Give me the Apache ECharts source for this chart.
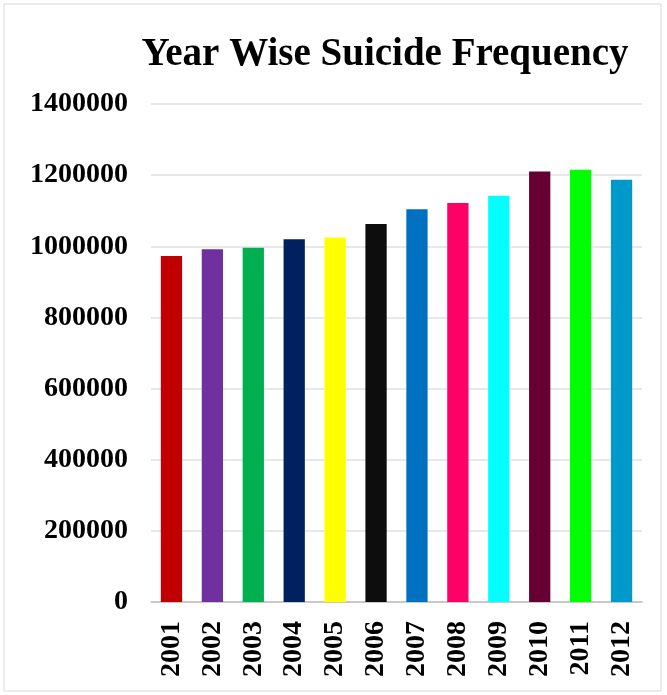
<!DOCTYPE html>
<html>
<head>
<meta charset="utf-8">
<script src="https://cdn.jsdelivr.net/npm/echarts@6/dist/echarts.min.js"></script>
<style>
  html, body { margin: 0; padding: 0; background: #fff; }
  #chart { width: 667px; height: 695px; }
</style>
</head>
<body>
<div id="chart"></div>
<script>
// Yearly suicide counts
const years = ['2001','2002','2003','2004','2005','2006','2007','2008','2009','2010','2011','2012'];
const counts = [973000, 992000, 996000, 1020000, 1025000, 1063000, 1104000, 1122000, 1142000, 1210000, 1215000, 1187000];
const barColors = ['#c00000','#7030a0','#00b050','#002060','#ffff00','#0d0d0d','#0070c0','#ff0066','#00ffff','#660033','#00ff00','#0099cc'];
const yTicks = [0, 200000, 400000, 600000, 800000, 1000000, 1200000, 1400000];

const serif = '"Liberation Serif", "Times New Roman", serif';
const chart = echarts.init(document.getElementById('chart'));

chart.setOption({
  backgroundColor: '#fff',
  animation: false,
  graphic: [{
    type: 'rect',
    shape: { x: 4, y: 4, width: 657, height: 687 },
    style: { fill: 'none', stroke: '#d9d9d9', lineWidth: 1 },
    silent: true
  }],
  title: {
    text: 'Year Wise Suicide Frequency',
    left: 380,
    top: 30,
    textAlign: 'center',
    textStyle: { fontFamily: serif, fontWeight: 'bold', fontSize: 39, color: '#000' }
  },
  grid: { left: 151, right: 25, top: 104, bottom: 93 },
  xAxis: {
    type: 'category',
    data: years,
    axisLine: { lineStyle: { color: '#bfbfbf', width: 1.5 } },
    axisTick: { show: false },
    axisLabel: {
      rotate: 90,
      margin: 19,
      fontFamily: serif, fontWeight: 'bold', fontSize: 28, color: '#000'
    }
  },
  yAxis: {
    type: 'value',
    min: yTicks[0],
    max: yTicks[yTicks.length - 1],
    interval: yTicks[1] - yTicks[0],
    axisLine: { show: false },
    axisTick: { show: false },
    splitLine: { lineStyle: { color: '#e0e0e0', width: 1.5 } },
    axisLabel: {
      margin: 23,
      formatter: v => String(v),
      fontFamily: serif, fontWeight: 'bold', fontSize: 28, color: '#000'
    }
  },
  series: [{
    type: 'bar',
    barWidth: '52%',
    data: counts.map((v, i) => ({ value: v, itemStyle: { color: barColors[i] } }))
  }]
});
</script>
</body>
</html>
